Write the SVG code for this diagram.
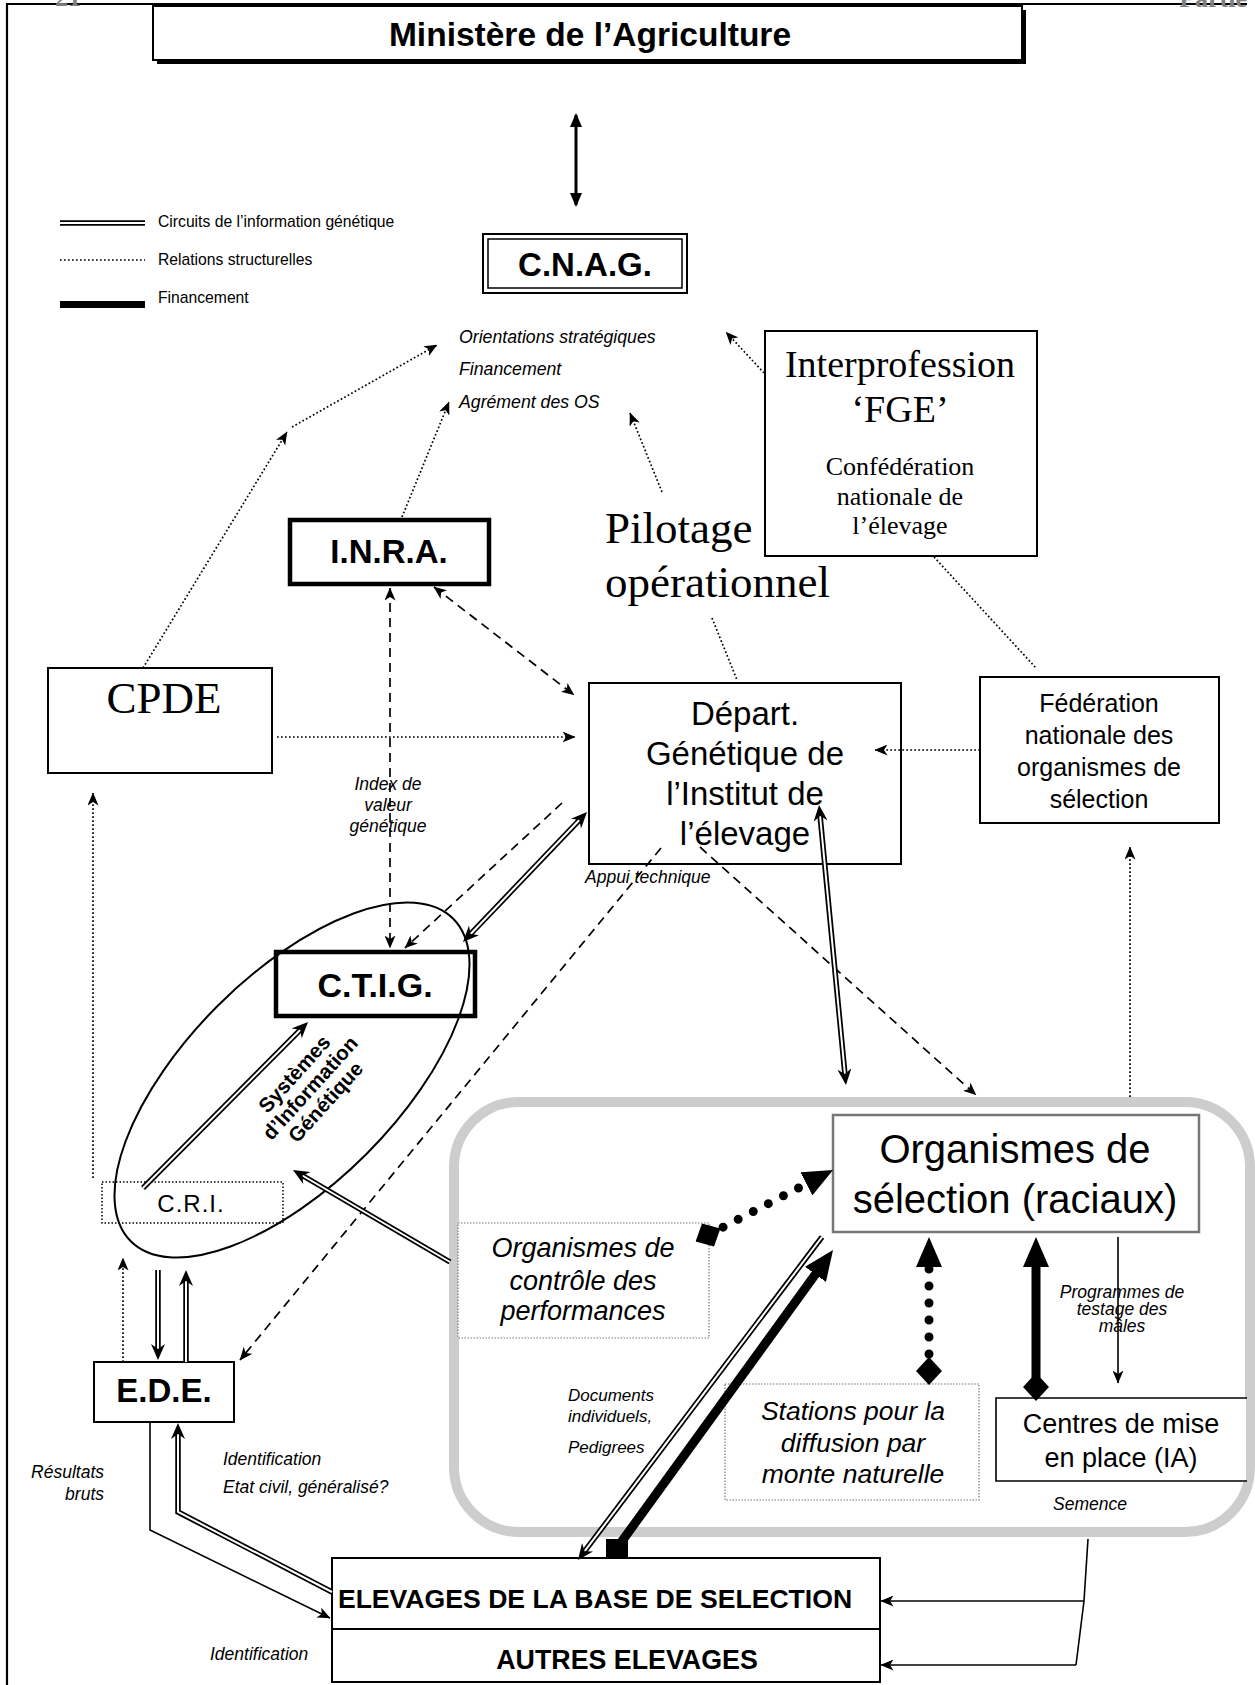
<svg xmlns="http://www.w3.org/2000/svg" width="1255" height="1685" viewBox="0 0 1255 1685">
<defs>
<style>
text{font-family:"Liberation Sans",Arial,sans-serif;fill:#000}
.serif{font-family:"Liberation Serif","Times New Roman",serif}
.b{font-weight:bold}
.i{font-style:italic}
.m{text-anchor:middle}
.box{fill:#fff;stroke:#000;stroke-width:2}
.tk{stroke-width:4.5}
.dotbox{fill:#fff;stroke:#777;stroke-width:1.2;stroke-dasharray:1.5 1.5}
.dot{fill:none;stroke:#000;stroke-width:1.7;stroke-dasharray:1.7 2.3}
.dash{fill:none;stroke:#000;stroke-width:1.7;stroke-dasharray:9 6}
.thin{fill:none;stroke:#000;stroke-width:1.6}
.dblo{fill:none;stroke:#000;stroke-width:5.5}
.dbli{fill:none;stroke:#fff;stroke-width:2}
.mk{fill:none;stroke:none}
.bigdot{fill:none;stroke:#000;stroke-width:9;stroke-linecap:round;stroke-dasharray:0 17}
.fat{fill:none;stroke:#000;stroke-width:9}
.grey{fill:#808080}
</style>
<marker id="ah" viewBox="0 0 13 11" refX="12.5" refY="5.5" markerWidth="13" markerHeight="11" markerUnits="userSpaceOnUse" orient="auto-start-reverse"><path d="M0,0 L13,5.5 L0,11 L3.5,5.5 z" fill="#000"/></marker>
<marker id="ahD" viewBox="0 0 16 14" refX="8" refY="7" markerWidth="16" markerHeight="14" markerUnits="userSpaceOnUse" orient="auto-start-reverse"><path d="M0,0 L16,7 L0,14 L5,7 z" fill="#000"/></marker>
<marker id="tri" viewBox="0 0 14 12" refX="12" refY="6" markerWidth="14" markerHeight="12" markerUnits="userSpaceOnUse" orient="auto-start-reverse"><path d="M0,0 L14,6 L0,12 z" fill="#000"/></marker>
<marker id="big" viewBox="0 0 30 26" refX="2" refY="13" markerWidth="30" markerHeight="26" markerUnits="userSpaceOnUse" orient="auto"><path d="M0,0 L30,13 L0,26 z" fill="#000"/></marker>
<marker id="dia" viewBox="0 0 28 26" refX="14" refY="13" markerWidth="28" markerHeight="26" markerUnits="userSpaceOnUse" orient="auto"><path d="M0,13 L14,0 L28,13 L14,26 z" fill="#000"/></marker>
</defs>
<rect width="1255" height="1685" fill="#fff"/>

<!-- page frame and header -->
<g id="page">
<path d="M7,1685 V4 H1247" fill="none" stroke="#000" stroke-width="2.2"/>
<text x="55" y="6" class="serif b grey" font-size="26">21</text>
<text x="1247" y="7" class="serif b grey" font-size="26" text-anchor="end">Partie</text>
</g>

<!-- legend -->
<g id="legend">
<path class="dblo" d="M60,223 H145"/><path class="dbli" d="M60,223 H145"/>
<path class="dot" d="M60,260 H145"/>
<rect x="60" y="301" width="85" height="7" fill="#000"/>
<text x="158" y="227" font-size="15.7">Circuits de l’information génétique</text>
<text x="158" y="265" font-size="15.7">Relations structurelles</text>
<text x="158" y="303" font-size="15.7">Financement</text>
</g>

<!-- grouping frame -->
<g id="os-frame">
<rect x="454" y="1102" width="796" height="430" rx="65" ry="65" fill="none" stroke="#cdcdcd" stroke-width="10"/>
</g>

<g id="ministere">
<rect x="157" y="10" width="869" height="54" fill="#000"/>
<rect x="153" y="6" width="869" height="54" class="box" stroke-width="3.5"/>
<text x="590" y="46" class="b m" font-size="33.5">Ministère de l’Agriculture</text>
</g>

<g id="cnag">
<rect x="483" y="234" width="204" height="59" class="box" stroke-width="2.8"/>
<rect x="488" y="239" width="194" height="49" fill="none" stroke="#000" stroke-width="1.5"/>
<text x="585" y="276" class="b m" font-size="33">C.N.A.G.</text>
</g>

<g id="objectifs">
<text x="459" y="343" class="i" font-size="17.7">Orientations stratégiques</text>
<text x="459" y="375" class="i" font-size="17.7">Financement</text>
<text x="459" y="408" class="i" font-size="17.7">Agrément des OS</text>
</g>

<g id="interprofession">
<rect x="765" y="331" width="272" height="225" class="box"/>
<text x="900" y="377" class="serif m" font-size="38">Interprofession</text>
<text x="900" y="422" class="serif m" font-size="38">‘FGE’</text>
<text x="900" y="475" class="serif m" font-size="26">Confédération</text>
<text x="900" y="505" class="serif m" font-size="26">nationale de</text>
<text x="900" y="534" class="serif m" font-size="26">l’élevage</text>
</g>

<g id="pilotage">
<text x="605" y="543" class="serif" font-size="45">Pilotage</text>
<text x="605" y="597" class="serif" font-size="45">opérationnel</text>
</g>

<g id="inra">
<rect x="290" y="520" width="199" height="64" class="box tk"/>
<text x="389" y="563" class="b m" font-size="33">I.N.R.A.</text>
</g>

<g id="cpde">
<rect x="48" y="668" width="224" height="105" class="box"/>
<text x="164" y="713" class="serif m" font-size="45">CPDE</text>
</g>

<g id="depart">
<rect x="589" y="683" width="312" height="181" class="box" stroke-width="2.5"/>
<text x="745" y="725" class="m" font-size="33">Départ.</text>
<text x="745" y="765" class="m" font-size="33">Génétique de</text>
<text x="745" y="805" class="m" font-size="33">l’Institut de</text>
<text x="745" y="845" class="m" font-size="33">l’élevage</text>
</g>

<g id="federation">
<rect x="980" y="677" width="239" height="146" class="box" stroke="#333" stroke-width="1.6"/>
<text x="1099" y="712" class="m" font-size="25">Fédération</text>
<text x="1099" y="744" class="m" font-size="25">nationale des</text>
<text x="1099" y="776" class="m" font-size="25">organismes de</text>
<text x="1099" y="808" class="m" font-size="25">sélection</text>
</g>

<g id="index-label">
<text x="388" y="790" class="i m" font-size="17.5">Index de</text>
<text x="388" y="811" class="i m" font-size="17.5">valeur</text>
<text x="388" y="832" class="i m" font-size="17.5">génétique</text>
</g>
<text x="585" y="883" class="i" font-size="17.5">Appui technique</text>

<g id="ctig">
<rect x="276" y="952" width="199" height="64" class="box tk"/>
<text x="375" y="997" class="b m" font-size="34">C.T.I.G.</text>
</g>

<g id="cri">
<rect x="102" y="1182" width="181" height="41" fill="#fff" stroke="#000" stroke-width="1.5" stroke-dasharray="1.5 2"/>
<text x="191" y="1212" class="m" font-size="24" letter-spacing="1">C.R.I.</text>
</g>

<g id="sig">
<ellipse cx="292" cy="1080" rx="228" ry="105" transform="rotate(-45 292 1080)" fill="none" stroke="#000" stroke-width="2"/>
<g transform="translate(310,1088) rotate(-48)">
<text x="0" y="-14" class="b m" font-size="20.5">Systèmes</text>
<text x="0" y="7" class="b m" font-size="20.5">d’Information</text>
<text x="0" y="28" class="b m" font-size="20.5">Génétique</text>
</g>
</g>

<g id="ede">
<rect x="94" y="1362" width="140" height="60" class="box" stroke-width="2.5"/>
<text x="164" y="1402" class="b m" font-size="33">E.D.E.</text>
</g>

<g id="organismes-selection">
<rect x="833" y="1115" width="366" height="117" fill="#fff" stroke="#777" stroke-width="2.5"/>
<text x="1015" y="1163" class="m" font-size="40">Organismes de</text>
<text x="1015" y="1213" class="m" font-size="40">sélection (raciaux)</text>
</g>

<g id="controle">
<rect x="458" y="1223" width="251" height="115" class="dotbox"/>
<text x="583" y="1257" class="i m" font-size="27">Organismes de</text>
<text x="583" y="1290" class="i m" font-size="27">contrôle des</text>
<text x="583" y="1320" class="i m" font-size="27">performances</text>
</g>

<g id="stations">
<rect x="725" y="1384" width="254" height="116" class="dotbox"/>
<text x="853" y="1420" class="i m" font-size="26.5">Stations pour la</text>
<text x="853" y="1452" class="i m" font-size="26.5">diffusion par</text>
<text x="853" y="1483" class="i m" font-size="26.5">monte naturelle</text>
</g>

<g id="centres">
<rect x="996" y="1398" width="250" height="83" fill="#fff"/>
<path d="M1247,1398 H996 V1481 H1247" fill="none" stroke="#000" stroke-width="1.6"/>
<text x="1121" y="1433" class="m" font-size="27">Centres de mise</text>
<text x="1121" y="1467" class="m" font-size="27">en place (IA)</text>
</g>

<g id="elevages">
<rect x="332" y="1558" width="548" height="124" class="box" stroke-width="2.5"/>
<path d="M332,1629 H880" stroke="#000" stroke-width="2"/>
<text x="595" y="1608" class="b m" font-size="26.6">ELEVAGES DE LA BASE DE SELECTION</text>
<text x="627" y="1669" class="b m" font-size="26.8">AUTRES ELEVAGES</text>
</g>

<g id="labels">
<text x="1122" y="1298" class="i m" font-size="17.5">Programmes de</text>
<text x="1122" y="1315" class="i m" font-size="17.5">testage des</text>
<text x="1122" y="1332" class="i m" font-size="17.5">mâles</text>
<text x="1053" y="1510" class="i" font-size="17.5">Semence</text>
<text x="568" y="1401" class="i" font-size="17">Documents</text>
<text x="568" y="1422" class="i" font-size="17">individuels,</text>
<text x="568" y="1453" class="i" font-size="17">Pedigrees</text>
<text x="104" y="1478" class="i" font-size="17.5" text-anchor="end">Résultats</text>
<text x="104" y="1500" class="i" font-size="17.5" text-anchor="end">bruts</text>
<text x="223" y="1465" class="i" font-size="17.5">Identification</text>
<text x="223" y="1493" class="i" font-size="17.5">Etat civil, généralisé?</text>
<text x="210" y="1660" class="i" font-size="17.5">Identification</text>
</g>

<g id="connectors">
<!-- financement -->
<path d="M576,115 V205" fill="none" stroke="#000" stroke-width="3" marker-start="url(#tri)" marker-end="url(#tri)"/>
<!-- relations structurelles (dotted) -->
<path class="dot" d="M143,668 L287,432" marker-end="url(#ah)"/>
<path class="dot" d="M292,427 L437,345" marker-end="url(#ah)"/>
<path class="dot" d="M402,517 L449,402" marker-end="url(#ah)"/>
<path class="dot" d="M662,492 L630,413" marker-end="url(#ah)"/>
<path class="dot" d="M764,373 L726,332" marker-end="url(#ah)"/>
<path class="dot" d="M934,557 L1036,668"/>
<path class="dot" d="M712,618 L737,680"/>
<path class="dot" d="M277,737 L575,737" marker-end="url(#ah)"/>
<path class="dot" d="M980,750 L875,750" marker-end="url(#ah)"/>
<path class="dot" d="M1130,1097 L1130,847" marker-end="url(#ah)"/>
<path class="dot" d="M93,1178 L93,793" marker-end="url(#ah)"/>
<path class="dot" d="M123,1362 L123,1258" marker-end="url(#ah)"/>
<!-- dashed -->
<path class="dash" d="M434,587 L574,695" marker-start="url(#ah)" marker-end="url(#ah)"/>
<path class="dash" d="M390,588 L390,948" marker-start="url(#ah)" marker-end="url(#ah)"/>
<path class="dash" d="M562,803 L405,948" marker-end="url(#ah)"/>
<path class="dash" d="M661,848 L240,1360" marker-end="url(#ah)"/>
<path class="dash" d="M700,847 L976,1095" marker-end="url(#ah)"/>
<!-- thin solid -->
<path class="thin" d="M150,1423 L150,1530 L330,1618" marker-end="url(#ah)"/>
<path class="thin" d="M1088,1539 L1084,1601 L1076,1665"/>
<path class="thin" d="M1084,1601 L881,1601" marker-end="url(#ah)"/>
<path class="thin" d="M1076,1665 L881,1665" marker-end="url(#ah)"/>
<path class="thin" d="M1118,1237 L1118,1383" marker-end="url(#ah)"/>
<!-- double lines: information circuits -->
<path class="dblo" d="M143,1188 L302.4,1027.7"/><path class="dbli" d="M143,1188 L302.4,1027.7"/><path class="mk" d="M143,1188 L302.4,1027.7" marker-end="url(#ahD)"/>
<path class="dblo" d="M450,1262 L299.9,1174"/><path class="dbli" d="M450,1262 L299.9,1174"/><path class="mk" d="M450,1262 L299.9,1174" marker-end="url(#ahD)"/>
<path class="dblo" d="M158,1270 L158,1352"/><path class="dbli" d="M158,1270 L158,1352"/><path class="mk" d="M158,1270 L158,1352" marker-end="url(#ahD)"/>
<path class="dblo" d="M186,1362 L186,1278"/><path class="dbli" d="M186,1362 L186,1278"/><path class="mk" d="M186,1362 L186,1278" marker-end="url(#ahD)"/>
<path class="dblo" d="M822,1237 L582.8,1553.6"/><path class="dbli" d="M822,1237 L582.8,1553.6"/><path class="mk" d="M822,1237 L582.8,1553.6" marker-end="url(#ahD)"/>
<path class="dblo" d="M332,1592 L178,1512 L178,1431"/><path class="dbli" d="M332,1592 L178,1512 L178,1431"/><path class="mk" d="M332,1592 L178,1512 L178,1431" marker-end="url(#ahD)"/>
<path class="dblo" d="M581.5,817.8 L468.5,936.2"/><path class="dbli" d="M581.5,817.8 L468.5,936.2"/><path class="mk" d="M581.5,817.8 L468.5,936.2" marker-start="url(#ahD)" marker-end="url(#ahD)"/>
<path class="dblo" d="M819.8,813 L845.2,1077"/><path class="dbli" d="M819.8,813 L845.2,1077"/><path class="mk" d="M819.8,813 L845.2,1077" marker-start="url(#ahD)" marker-end="url(#ahD)"/>
<!-- big arrows inside the OS frame -->
<path class="bigdot" d="M708,1235 L808.2,1182.9" marker-start="url(#dia)" marker-end="url(#big)"/>
<path class="bigdot" d="M929,1371 L929,1265" marker-start="url(#dia)" marker-end="url(#big)"/>
<path class="fat" d="M1036,1387 L1036,1265" marker-start="url(#dia)" marker-end="url(#big)"/>
<path class="fat" d="M617,1548 L816.6,1272.7" marker-end="url(#big)"/>
<rect x="606" y="1539" width="22" height="19" fill="#000"/>
</g>
</svg>
